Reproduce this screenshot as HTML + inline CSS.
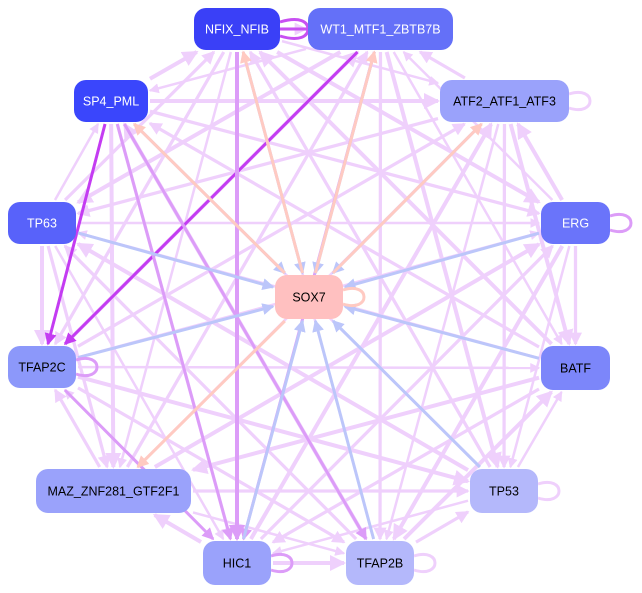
<!DOCTYPE html>
<html><head><meta charset="utf-8"><style>
html,body{margin:0;padding:0;background:#fff;width:642px;height:593px;overflow:hidden}
svg{display:block}
text{font-family:"Liberation Sans",sans-serif;font-size:12.5px}
</style></head><body>
<svg id="s" width="642" height="593" viewBox="0 0 642 593" xmlns="http://www.w3.org/2000/svg">
<defs></defs>
<g id="edges"></g>
<g id="nodes"></g>
</svg>
<script>
var N={
NFIX:[194,8,86,42,'#3a40f7','NFIX_NFIB','#fff'],
WT1:[308,8,145,42,'#6470f8','WT1_MTF1_ZBTB7B','#fff'],
SP4:[74,80,74,42,'#3a46fc','SP4_PML','#fff'],
ATF2:[440,80,129,42,'#9aa2fb','ATF2_ATF1_ATF3','#000'],
TP63:[8,202,68,42,'#5862fa','TP63','#fff'],
ERG:[541,202,69,42,'#6a74fa','ERG','#fff'],
SOX7:[275,275,68,44,'#ffc0c0','SOX7','#000'],
TFAP2C:[8,346,68,42,'#8c98fa','TFAP2C','#000'],
BATF:[541,346,69,44,'#7c86fa','BATF','#000'],
MAZ:[36,469,155,44,'#9aa2fb','MAZ_ZNF281_GTF2F1','#000'],
TP53:[470,469,68,44,'#b4b8fb','TP53','#000'],
HIC1:[203,541,68,44,'#9aa2fb','HIC1','#000'],
TFAP2B:[346,541,68,44,'#b4b8fb','TFAP2B','#000']};
var L='#efd0fc',M='#dc9cf8',D='#c43cf2',B='#bcc6fa',P='#ffcac2';
var keys=Object.keys(N);
var E=[];
for(var i=0;i<keys.length;i++)for(var j=i+1;j<keys.length;j++){
 var a=keys[i],b=keys[j];
 if(a=='SOX7'||b=='SOX7')continue;
 E.push([(i*7+j)%2?a:b,(i*7+j)%2?b:a,L,2.5+((i+j)%3)*0.75]);
}
E.push(['SP4','TFAP2C',D,3],['WT1','TFAP2C',D,3],['SP4','HIC1',M,3],['NFIX','HIC1',M,4],['WT1','HIC1',M,3],['TFAP2C','HIC1',M,3],['SP4','TFAP2B',M,3]);
['NFIX','WT1','SP4','TP63','ATF2','ERG','TFAP2C','BATF','TP53','TFAP2B','HIC1'].forEach(function(k){E.push([k,'SOX7',B,3]);});
['MAZ','SP4','WT1','NFIX','ATF2'].forEach(function(k){E.push(['SOX7',k,P,3]);});
function ctr(k){var n=N[k];return [n[0]+n[2]/2,n[1]+n[3]/2];}
function clip(k,dx,dy){var n=N[k];var hw=n[2]/2+2,hh=n[3]/2+2;return Math.min(Math.abs(hw/(dx||1e-9)),Math.abs(hh/(dy||1e-9)));}
var ns='http://www.w3.org/2000/svg',g=document.getElementById('edges'),defs=document.querySelector('defs');
var mk={};
function marker(c){if(mk[c])return mk[c];var id='m'+Object.keys(mk).length;var m=document.createElementNS(ns,'marker');
m.setAttribute('id',id);m.setAttribute('markerWidth','4');m.setAttribute('markerHeight','4');m.setAttribute('refX','3.5');m.setAttribute('refY','2');m.setAttribute('orient','auto');m.setAttribute('markerUnits','strokeWidth');
var p=document.createElementNS(ns,'path');p.setAttribute('d','M0,0 L4,2 L0,4 z');p.setAttribute('fill',c);m.appendChild(p);defs.appendChild(m);mk[c]=id;return id;}
E.forEach(function(e){var a=ctr(e[0]),b=ctr(e[1]);var dx=b[0]-a[0],dy=b[1]-a[1];
 var t1=clip(e[0],dx,dy),t2=clip(e[1],dx,dy);
 var x1=a[0]+dx*t1,y1=a[1]+dy*t1,x2=b[0]-dx*t2,y2=b[1]-dy*t2;
 var l=document.createElementNS(ns,'line');l.setAttribute('x1',x1);l.setAttribute('y1',y1);l.setAttribute('x2',x2);l.setAttribute('y2',y2);
 l.setAttribute('stroke',e[2]);l.setAttribute('stroke-width',e[3]);l.setAttribute('marker-end','url(#'+marker(e[2])+')');g.appendChild(l);});
function loop(k,c){var n=N[k];var x=n[0]+n[2],y=n[1]+n[3]/2;var p=document.createElementNS(ns,'path');
p.setAttribute('d','M'+x+','+(y-7)+' C'+(x+28)+','+(y-16)+' '+(x+28)+','+(y+16)+' '+x+','+(y+7));p.setAttribute('fill','none');p.setAttribute('stroke',c);p.setAttribute('stroke-width',3);g.appendChild(p);}
loop('ATF2',L);loop('ERG',M);loop('SOX7',P);loop('TFAP2C',M);loop('TP53',L);loop('HIC1',M);loop('TFAP2B',L);
var q=document.createElementNS(ns,'path');q.setAttribute('d','M280,22 C300,16 308,22 308,29 M280,36 C300,42 308,36 308,29 M280,29 L308,29');q.setAttribute('fill','none');q.setAttribute('stroke','#c850f2');q.setAttribute('stroke-width',3);g.appendChild(q);
var gn=document.getElementById('nodes');
keys.forEach(function(k){var n=N[k];var r=document.createElementNS(ns,'rect');r.setAttribute('x',n[0]);r.setAttribute('y',n[1]);r.setAttribute('width',n[2]);r.setAttribute('height',n[3]);r.setAttribute('rx',12);r.setAttribute('fill',n[4]);gn.appendChild(r);
var t=document.createElementNS(ns,'text');t.setAttribute('x',n[0]+n[2]/2);t.setAttribute('y',n[1]+n[3]/2+4.5);t.setAttribute('text-anchor','middle');t.setAttribute('fill',n[6]);t.textContent=n[5];gn.appendChild(t);});
</script>
</body></html>
